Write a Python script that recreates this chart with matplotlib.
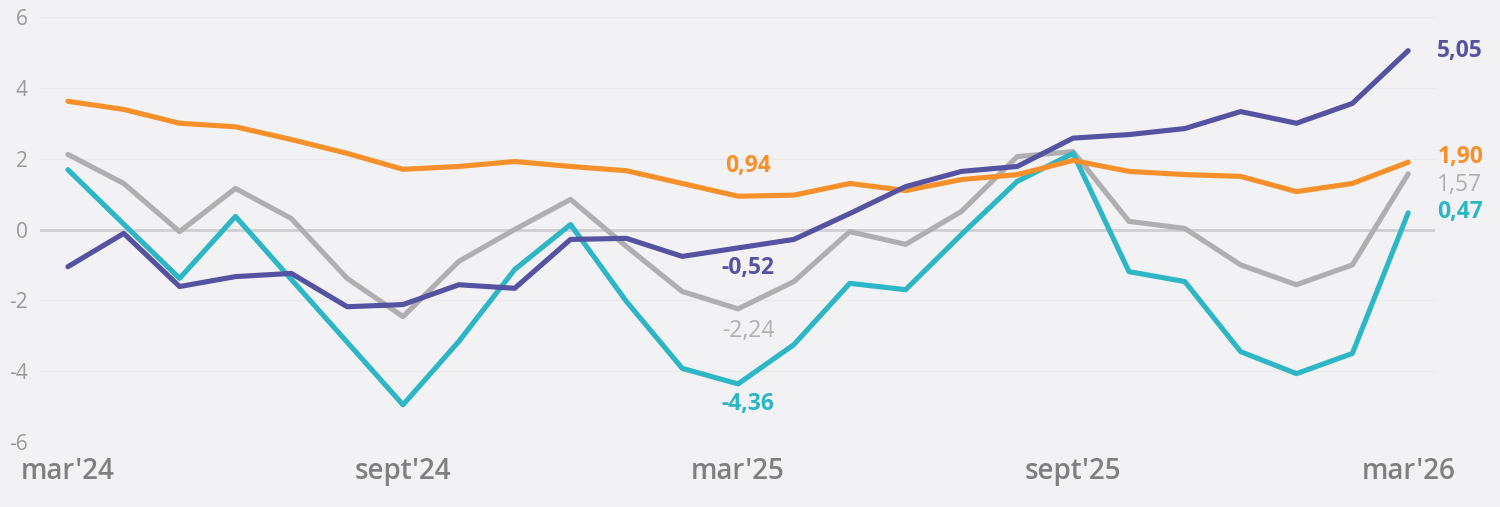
import matplotlib.pyplot as plt

plt.rcParams['font.family'] = ['Open Sans', 'DejaVu Sans']

months = list(range(25))
tick_pos = [0, 6, 12, 18, 24]
tick_labels = ["mar'24", "sept'24", "mar'25", "sept'25", "mar'26"]
y_ticks = [-6, -4, -2, 0, 2, 4, 6]

orange = [3.62, 3.39, 3.00, 2.90, 2.54, 2.15, 1.70, 1.78, 1.92, 1.78, 1.66, 1.30,
          0.94, 0.97, 1.30, 1.10, 1.41, 1.55, 1.95, 1.64, 1.55, 1.50, 1.07, 1.30, 1.90]
gray = [2.12, 1.30, -0.06, 1.16, 0.31, -1.38, -2.46, -0.90, 0.00, 0.85, -0.48, -1.75,
        -2.24, -1.47, -0.06, -0.42, 0.51, 2.06, 2.20, 0.23, 0.03, -1.00, -1.56, -1.00, 1.57]
teal = [1.69, 0.15, -1.38, 0.37, -1.41, -3.18, -4.95, -3.16, -1.13, 0.14, -2.03, -3.92,
        -4.36, -3.25, -1.52, -1.70, -0.14, 1.36, 2.15, -1.19, -1.47, -3.45, -4.07, -3.50, 0.47]
navy = [-1.05, -0.11, -1.61, -1.33, -1.24, -2.18, -2.12, -1.56, -1.66, -0.28, -0.25, -0.76,
        -0.52, -0.28, 0.45, 1.21, 1.64, 1.78, 2.58, 2.68, 2.85, 3.33, 3.00, 3.56, 5.05]

c_orange = '#f7902a'
c_gray = '#afafb1'
c_teal = '#2db7c6'
c_navy = '#5553a1'


def fmt(v):
    """Format a value with a decimal comma."""
    return ('%.2f' % v).replace('.', ',')


def main():
    """Draw the chart and save it."""
    fig = plt.figure(figsize=(15, 5.07), dpi=100, facecolor='#f2f2f4')
    ax = fig.add_axes([40 / 1500, 1 - 442 / 507, 1395 / 1500, 425 / 507])
    ax.set_facecolor('#f2f2f4')

    for y in y_ticks:
        if y == 0:
            ax.axhline(0, color='#cfcfd3', lw=2, zorder=1)
        else:
            ax.axhline(y, color='#e9e9ec', lw=1, zorder=0)

    ax.plot(months, gray, color=c_gray, lw=3.7, zorder=2, solid_capstyle='round')
    ax.plot(months, teal, color=c_teal, lw=3.7, zorder=3, solid_capstyle='round')
    ax.plot(months, orange, color=c_orange, lw=3.7, zorder=4, solid_capstyle='round')
    ax.plot(months, navy, color=c_navy, lw=3.7, zorder=5, solid_capstyle='round')

    ax.set_xlim(-0.5, 24.48)
    ax.set_ylim(-6, 6)

    fs = 16.5
    # labels at mar'25
    ax.text(12.18, orange[12] + 0.84, fmt(orange[12]), color=c_orange, fontsize=fs,
            fontweight='bold', ha='center', va='center')
    ax.text(12.18, navy[12] - 0.58, fmt(navy[12]), color=c_navy, fontsize=fs,
            fontweight='bold', ha='center', va='center')
    ax.text(12.18, gray[12] - 0.64, fmt(gray[12]), color=c_gray, fontsize=fs,
            ha='center', va='center')
    ax.text(12.18, teal[12] - 0.56, fmt(teal[12]), color=c_teal, fontsize=fs,
            fontweight='bold', ha='center', va='center')

    # labels at the end
    ax.text(24.52, navy[24] - 0.02, fmt(navy[24]), color=c_navy, fontsize=fs,
            fontweight='bold', ha='left', va='center', clip_on=False)
    ax.text(24.52, orange[24] + 0.15, fmt(orange[24]), color=c_orange, fontsize=fs,
            fontweight='bold', ha='left', va='center', clip_on=False)
    ax.text(24.52, gray[24] - 0.3, fmt(gray[24]), color=c_gray, fontsize=fs,
            ha='left', va='center', clip_on=False)
    ax.text(24.52, teal[24] + 0.03, fmt(teal[24]), color=c_teal, fontsize=fs,
            fontweight='bold', ha='left', va='center', clip_on=False)

    ax.set_yticks(y_ticks)
    ax.set_yticklabels([str(y) for y in y_ticks])
    ax.set_xticks(tick_pos)
    ax.set_xticklabels(tick_labels)
    ax.tick_params(axis='y', length=0, pad=9, labelsize=15, labelcolor='#9a9a9c')
    ax.tick_params(axis='x', length=0, pad=11, labelsize=20, labelcolor='#7f7f82')
    for lab in ax.get_xticklabels():
        lab.set_fontweight('semibold')
    for s in ax.spines.values():
        s.set_visible(False)

    fig.savefig('out.png', facecolor=fig.get_facecolor())


if __name__ == "__main__":
    main()
